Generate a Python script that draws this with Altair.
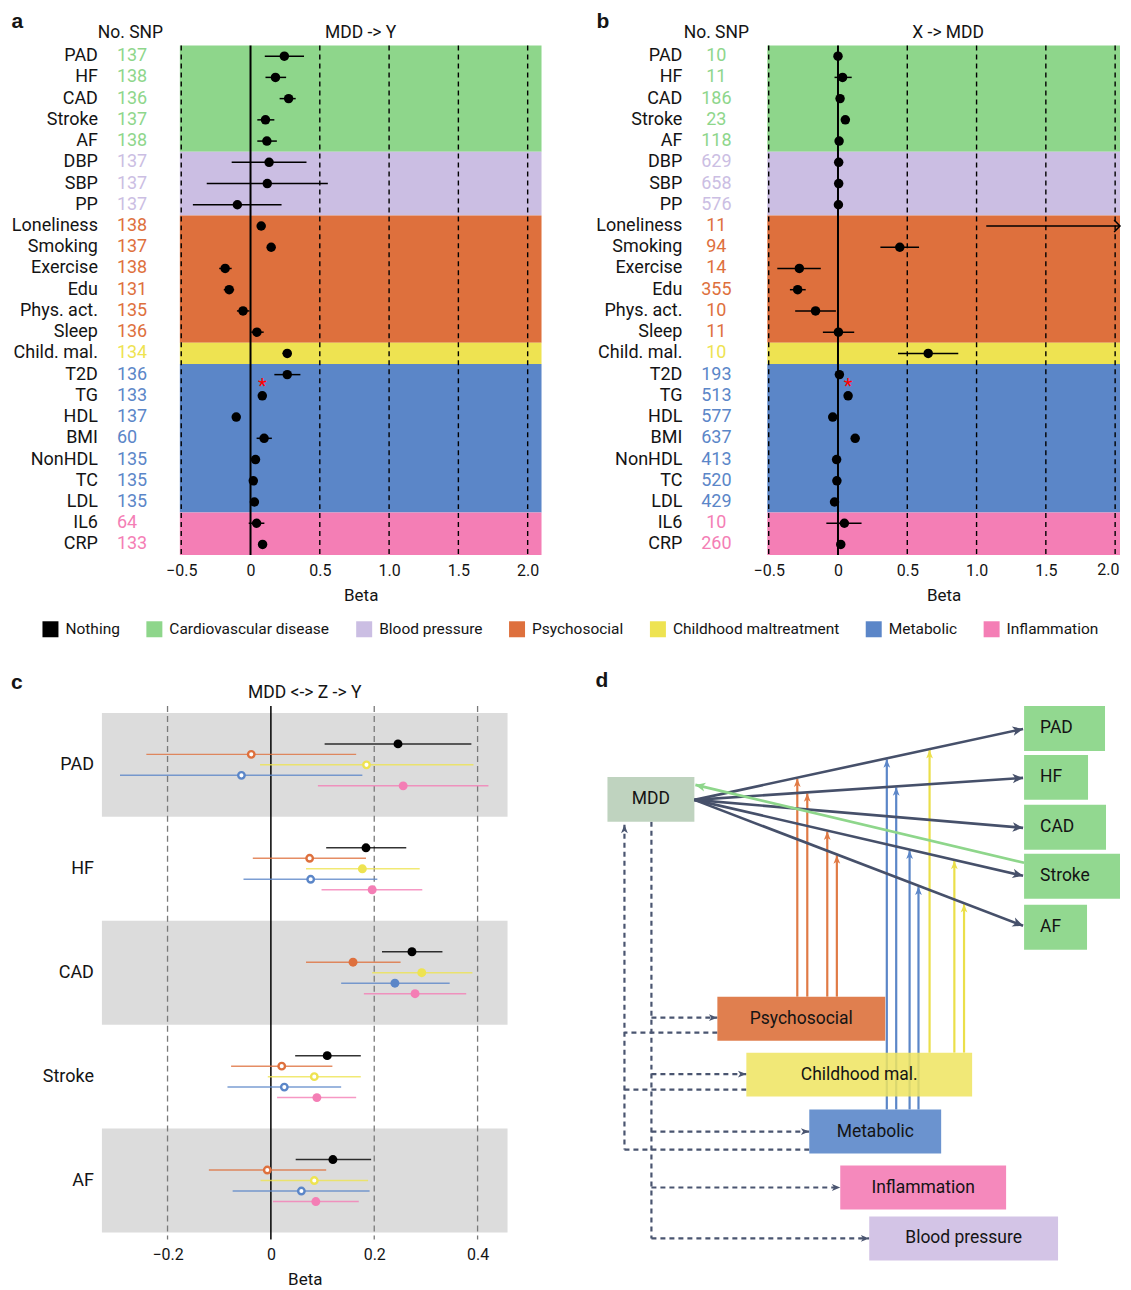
import math
import altair as alt
import numpy as np
import pandas as pd

FONT = "Roboto"
BOLD_FONT = "Liberation Sans"
INK = "#141414"

# ---------------- data: panels a and b ----------------
names = ["PAD", "HF", "CAD", "Stroke", "AF", "DBP", "SBP", "PP", "Loneliness", "Smoking",
         "Exercise", "Edu", "Phys. act.", "Sleep", "Child. mal.", "T2D", "TG", "HDL", "BMI",
         "NonHDL", "TC", "LDL", "IL6", "CRP"]
groups = (["Cardiovascular disease"] * 5 + ["Blood pressure"] * 3 + ["Psychosocial"] * 6
          + ["Childhood maltreatment"] + ["Metabolic"] * 7 + ["Inflammation"] * 2)
star_flags = [n == "TG" for n in names]

snp_a = [137, 138, 136, 137, 138, 137, 137, 137, 138, 137, 138, 131, 135, 136, 134, 136, 133,
         137, 60, 135, 135, 135, 64, 133]
beta_a = [0.244, 0.180, 0.275, 0.108, 0.118, 0.134, 0.121, -0.095, 0.077, 0.149, -0.183, -0.154,
          -0.054, 0.046, 0.265, 0.265, 0.085, -0.103, 0.098, 0.036, 0.020, 0.028, 0.044, 0.087]
lo_a = [0.103, 0.108, 0.210, 0.049, 0.049, -0.136, -0.316, -0.416, 0.067, 0.139, -0.226, -0.193,
        -0.098, 0.005, 0.231, 0.172, 0.075, -0.113, 0.044, 0.026, 0.010, 0.018, -0.013, 0.077]
hi_a = [0.386, 0.257, 0.326, 0.172, 0.190, 0.404, 0.558, 0.224, 0.087, 0.159, -0.136, -0.118,
        -0.008, 0.095, 0.296, 0.360, 0.095, -0.093, 0.154, 0.046, 0.030, 0.038, 0.100, 0.097]

snp_b = [10, 11, 186, 23, 118, 629, 658, 576, 11, 94, 14, 355, 10, 11, 10, 193, 513, 577, 637,
         413, 520, 429, 10, 260]
beta_b = [0.000, 0.033, 0.015, 0.053, 0.008, 0.005, 0.005, 0.003, 2.300, 0.446, -0.279, -0.291,
          -0.162, 0.003, 0.651, 0.010, 0.073, -0.038, 0.124, -0.010, -0.008, -0.025, 0.046, 0.020]
lo_b = [-0.010, -0.025, 0.005, 0.035, 0.000, 0.000, 0.000, -0.002, 1.070, 0.306, -0.438, -0.347,
        -0.309, -0.109, 0.433, 0.000, 0.063, -0.048, 0.114, -0.020, -0.018, -0.035, -0.084, 0.010]
hi_b = [0.010, 0.099, 0.025, 0.070, 0.016, 0.010, 0.010, 0.008, 3.500, 0.585, -0.124, -0.233,
        -0.015, 0.117, 0.868, 0.020, 0.083, -0.028, 0.134, 0.000, 0.002, -0.015, 0.170, 0.030]

AB_TICKS = [-0.5, 0.0, 0.5, 1.0, 1.5, 2.0]
AB_GRID = [-0.5, 0.5, 1.0, 1.5, 2.0]

CATS = ["Nothing", "Cardiovascular disease", "Blood pressure", "Psychosocial",
        "Childhood maltreatment", "Metabolic", "Inflammation"]
CAT_COLORS = ["#000000", "#8ED68B", "#CBBEE3", "#DE703D", "#EEE351", "#5B86C8", "#F47EB5"]

# ---------------- data: panel c ----------------
c_groups = ["PAD", "HF", "CAD", "Stroke", "AF"]
c_series = ["Nothing", "Psychosocial", "Childhood maltreatment", "Metabolic", "Inflammation"]
c_beta = {
    "Nothing": [0.246, 0.184, 0.273, 0.109, 0.120],
    "Psychosocial": [-0.038, 0.075, 0.159, 0.021, -0.007],
    "Childhood maltreatment": [0.185, 0.177, 0.292, 0.084, 0.084],
    "Metabolic": [-0.057, 0.077, 0.240, 0.026, 0.059],
    "Inflammation": [0.256, 0.196, 0.279, 0.089, 0.087],
}
c_lo = {
    "Nothing": [0.104, 0.107, 0.215, 0.047, 0.048],
    "Psychosocial": [-0.241, -0.035, 0.068, -0.077, -0.120],
    "Childhood maltreatment": [-0.021, 0.068, 0.196, -0.006, -0.020],
    "Metabolic": [-0.292, -0.053, 0.136, -0.084, -0.074],
    "Inflammation": [0.091, 0.098, 0.180, 0.012, 0.004],
}
c_hi = {
    "Nothing": [0.388, 0.262, 0.332, 0.174, 0.194],
    "Psychosocial": [0.165, 0.184, 0.251, 0.119, 0.107],
    "Childhood maltreatment": [0.392, 0.288, 0.390, 0.174, 0.188],
    "Metabolic": [0.177, 0.206, 0.346, 0.136, 0.191],
    "Inflammation": [0.421, 0.293, 0.378, 0.165, 0.170],
}
c_hollow = {
    "Nothing": [False, False, False, False, False],
    "Psychosocial": [True, True, False, True, True],
    "Childhood maltreatment": [True, False, False, True, True],
    "Metabolic": [True, True, False, True, True],
    "Inflammation": [False, False, False, False, False],
}
C_TICKS = [-0.2, 0.0, 0.2, 0.4]
C_GRID = [-0.2, 0.2, 0.4]

# ---------------- data: panel d (diagram) ----------------
box_names = ["MDD", "PAD", "HF", "CAD", "Stroke", "AF", "Psychosocial", "Childhood mal.",
             "Metabolic", "Inflammation", "Blood pressure"]
box_x0 = [9, 426, 426, 426, 426, 426, 119, 148, 211, 242, 271]
box_x1 = [96, 507, 490, 508, 526, 489, 287, 374, 343, 408, 460]
box_y0 = [71, 0, 49, 99, 148, 199, 291, 347, 404, 460, 511]
box_y1 = [116, 45, 94, 144, 193, 244, 335, 391, 448, 504, 555]
box_fill = ["#BFD3BF", "#92D890", "#92D890", "#92D890", "#92D890", "#92D890", "#E07F4F",
            "#EFE461", "#6B93CF", "#F589BC", "#D3C4E6"]
box_alpha = [1, 1, 1, 1, 1, 1, 1, 0.86, 1, 1, 1]
box_label_left = [False, True, True, True, True, True, False, False, False, False, False]

mdd_out = (96, 94)
outcome_tip = {"PAD": (425, 23), "HF": (425, 72), "CAD": (425, 122), "Stroke": (425, 170),
               "AF": (425, 220)}
green_from, green_to = (426, 157), (97, 79)
up_arrows = {
    "orange": ([199, 209, 229, 238.6], ["PAD", "HF", "Stroke", "AF"], 291, "#E07A45"),
    "blue": ([288.6, 298, 311.4, 320.3], ["PAD", "HF", "Stroke", "AF"], 404, "#5B86C8"),
    "yellow": ([331.4, 356.2, 365.9], ["PAD", "Stroke", "AF"], 347, "#EBDF4A"),
}
loop_in_x, loop_in_top, loop_in_bottom = 26, 119, 444
loop_in_y = [327, 384, 444]
loop_in_box = ["Psychosocial", "Childhood mal.", "Metabolic"]
loop_out_x, loop_out_top, loop_out_bottom = 53, 116, 533
loop_out_y = [312, 368.5, 426, 482, 533]
loop_out_box = ["Psychosocial", "Childhood mal.", "Metabolic", "Inflammation", "Blood pressure"]

# ---------------- layout constants ----------------
XMIN = -0.51
PX_PER_UNIT = 362 / 2.61
H_AB = 510
W_C, H_C = 406, 534
D_W, D_H = 522, 564
LABEL_PAD, TICK_SIZE = 7, 16
LETTER_SIZE = 21

color_scale = alt.Scale(domain=CATS, range=CAT_COLORS)
LEG = alt.Legend(orient="none", legendX=-59.5, legendY=576, direction="horizontal", title=None,
                 symbolType="square", symbolSize=256, symbolStrokeWidth=0, symbolOpacity=1,
                 labelFont=FONT, labelFontSize=15.5, labelColor=INK, labelOffset=7,
                 columnPadding=26, padding=0, labelLimit=0)

LABEL_EXPR = "datum.value == 0 ? '0' : replace(format(datum.value, '.1f'), '-', '\u2013')"


def cat_color():
    return alt.Color("cat:N", scale=color_scale, legend=LEG)


def xaxis(values):
    return alt.Axis(values=values, labelExpr=LABEL_EXPR,
                    title="Beta", domain=False, ticks=False, grid=False, labelFont=FONT,
                    labelFontSize=TICK_SIZE, labelColor=INK, labelPadding=LABEL_PAD,
                    titleFont=FONT, titleFontSize=17, titleFontWeight="normal", titleColor=INK,
                    titlePadding=9, labelFlush=False, labelOverlap=False)


def txt(text, x, y, align="center", size=17.5, font=FONT, weight="normal", baseline="alphabetic"):
    return alt.Chart(pd.DataFrame({"t": [text]})).mark_text(
        align=align, baseline=baseline, font=font, fontSize=size, fontWeight=weight,
        color=INK).encode(x=alt.value(x), y=alt.value(y), text="t:N")


def letter_mark(letter, x, base_y):
    off = round(0.79 * LETTER_SIZE)
    return txt(letter, x, base_y - off, align="left", size=LETTER_SIZE, font=BOLD_FONT,
               weight="bold", baseline="top")


def forest(beta, lo, hi, snp, title, letter, ox, w_plot, name_x, snp_x, snp_align,
           snp_title_x, letter_x):
    xmax = XMIN + w_plot / PX_PER_UNIT
    df = pd.DataFrame({"idx": list(range(len(names))), "name": names, "cat": groups,
                       "snp": [str(s) for s in snp], "beta": beta, "lo": lo, "hi": hi,
                       "star": star_flags})
    df["hi_draw"] = np.minimum(df["hi"], xmax)
    pts = df[df["beta"] <= xmax]
    over = df[df["hi"] > xmax].assign(xe=xmax)
    stars = df[df["star"]]
    band_rows = []
    for c in CATS[1:]:
        ids = df.index[df["cat"] == c]
        band_rows.append({"cat": c, "y0": ids.min() - 0.5, "y1": ids.max() + 0.5})
    bands = pd.DataFrame(band_rows)

    # tick labels that would spill past the figure edge are drawn as text marks,
    # nudged inwards so the page does not overflow
    axis_ticks = [t for t in AB_TICKS if (xmax - t) * PX_PER_UNIT > 11]
    edge_ticks = pd.DataFrame({"t": [t for t in AB_TICKS if t not in axis_ticks]})

    xs = alt.Scale(domain=[XMIN, xmax], range=[ox, ox + w_plot], nice=False, zero=False)
    ys = alt.Scale(domain=[-0.5, len(names) - 0.5], reverse=True, nice=False, zero=False)
    ax = xaxis(axis_ticks)

    def X(f):
        return alt.X(f, scale=xs, axis=ax, title="Beta")

    def Y(f):
        return alt.Y(f, scale=ys, axis=None)

    layers = [
        alt.Chart(bands).mark_rect().encode(x=alt.value(ox), x2=alt.value(ox + w_plot),
                                            y=Y("y0:Q"), y2="y1:Q", color=cat_color()),
        alt.Chart(pd.DataFrame({"t": AB_GRID})).mark_rule(
            color="black", strokeWidth=1.4, strokeDash=[5, 4]).encode(
            x=X("t:Q"), y=alt.value(0), y2=alt.value(H_AB)),
        alt.Chart(pd.DataFrame({"t": [0.0]})).mark_rule(color="black", strokeWidth=2).encode(
            x=X("t:Q"), y=alt.value(0), y2=alt.value(H_AB)),
        alt.Chart(df).mark_rule(color="black", strokeWidth=1.5).encode(
            x=X("lo:Q"), x2="hi_draw:Q", y=Y("idx:Q")),
        alt.Chart(pts).mark_circle(size=90, color="black", opacity=1).encode(
            x=X("beta:Q"), y=Y("idx:Q")),
    ]
    if len(over):
        layers.append(alt.Chart(over).mark_point(
            shape="M-1,-1L0,0L-1,1", filled=False, color="black", strokeWidth=1.5, size=140,
            opacity=1).encode(x=X("xe:Q"), y=Y("idx:Q")))
    if len(edge_ticks):
        layers.append(alt.Chart(edge_ticks).transform_calculate(
            lab="format(datum.t, '.1f')").mark_text(
            align="right", baseline="top", font=FONT, fontSize=TICK_SIZE, color=INK,
            dx=(xmax - edge_ticks["t"].max()) * PX_PER_UNIT - 0.5).encode(
            x=X("t:Q"), y=alt.value(H_AB + LABEL_PAD), text="lab:N"))
    layers += [
        alt.Chart(stars).mark_text(color="#FF0000", fontSize=20, font=FONT, baseline="middle",
                                   dy=-9).encode(x=X("beta:Q"), y=Y("idx:Q"), text=alt.value("*")),
        alt.Chart(df).mark_text(align="right", baseline="middle", font=FONT, fontSize=18,
                                color=INK).encode(x=alt.value(ox + name_x), y=Y("idx:Q"),
                                                  text="name:N"),
        alt.Chart(df).mark_text(align=snp_align, baseline="middle", font=FONT, fontSize=18).encode(
            x=alt.value(ox + snp_x), y=Y("idx:Q"), text="snp:N", color=cat_color()),
        txt("No. SNP", ox + snp_title_x, -8),
        txt(title, ox + 181, -8),
        letter_mark(letter, ox + letter_x, -18),
    ]
    return alt.layer(*layers).properties(width=ox + w_plot, height=H_AB)


def panel_c():
    rows = []
    for gi, g in enumerate(c_groups):
        for k, s in enumerate(c_series):
            rows.append({"group": g, "gi": gi, "cat": s, "pos": gi + (k - 2) * 0.101,
                         "beta": c_beta[s][gi], "lo": c_lo[s][gi], "hi": c_hi[s][gi],
                         "hollow": c_hollow[s][gi]})
    df = pd.DataFrame(rows)
    filled = df[~df["hollow"]]
    hollow = df[df["hollow"]]
    shade = pd.DataFrame({"y0": [g - 0.5 for g in (0, 2, 4)], "y1": [g + 0.5 for g in (0, 2, 4)]})
    lab = pd.DataFrame({"gi": list(range(len(c_groups))), "group": c_groups})

    xs = alt.Scale(domain=[-0.327, 0.458], nice=False, zero=False)
    ys = alt.Scale(domain=[-0.567, 4.567], reverse=True, nice=False, zero=False)
    ax = xaxis(C_TICKS)

    def X(f):
        return alt.X(f, scale=xs, axis=ax, title="Beta")

    def Y(f):
        return alt.Y(f, scale=ys, axis=None)

    layers = [
        alt.Chart(shade).mark_rect(color="#DCDCDC").encode(
            x=alt.value(0), x2=alt.value(W_C), y=Y("y0:Q"), y2="y1:Q"),
        alt.Chart(pd.DataFrame({"t": C_GRID})).mark_rule(
            color="#7A7A7A", strokeWidth=1.3, strokeDash=[6, 4]).encode(
            x=X("t:Q"), y=alt.value(0), y2=alt.value(H_C)),
        alt.Chart(pd.DataFrame({"t": [0.0]})).mark_rule(color="black", strokeWidth=1.5).encode(
            x=X("t:Q"), y=alt.value(0), y2=alt.value(H_C)),
        alt.Chart(df).mark_rule(strokeWidth=1.5, opacity=0.8).encode(
            x=X("lo:Q"), x2="hi:Q", y=Y("pos:Q"), color=cat_color()),
        alt.Chart(filled).mark_circle(size=80, opacity=1).encode(
            x=X("beta:Q"), y=Y("pos:Q"), color=cat_color()),
        alt.Chart(hollow).mark_point(fill="white", size=42, strokeWidth=2.4, opacity=1).encode(
            x=X("beta:Q"), y=Y("pos:Q"),
            stroke=alt.Stroke("cat:N", scale=color_scale, legend=None)),
        alt.Chart(lab).mark_text(align="right", baseline="middle", font=FONT, fontSize=18,
                                 color=INK).encode(x=alt.value(-8), y=Y("gi:Q"), text="group:N"),
        txt("MDD <-> Z -> Y", W_C / 2, -8),
        letter_mark("c", -91, -17),
    ]
    return alt.layer(*layers).properties(width=W_C, height=H_C)


def heading(x0, y0, x1, y1):
    return math.degrees(math.atan2(x1 - x0, -(y1 - y0))) % 360


def panel_d():
    dxs = alt.Scale(domain=[0, D_W], nice=False, zero=False)
    dys = alt.Scale(domain=[0, D_H], reverse=True, nice=False, zero=False)

    def X(f):
        return alt.X(f, scale=dxs, axis=None)

    def Y(f):
        return alt.Y(f, scale=dys, axis=None)

    def segs(rows, color, width, dash=None):
        kw = dict(color=color, strokeWidth=width, opacity=1)
        if dash:
            kw["strokeDash"] = dash
        d = pd.DataFrame(rows, columns=["x", "y", "x2", "y2"])
        return alt.Chart(d).mark_rule(**kw).encode(x=X("x:Q"), y=Y("y:Q"), x2="x2:Q", y2="y2:Q")

    def heads(rows, color, size, path):
        d = pd.DataFrame(rows, columns=["x", "y", "ang"])
        return alt.Chart(d).mark_point(shape=path, filled=True, color=color, size=size,
                                       opacity=1, strokeWidth=0).encode(
            x=X("x:Q"), y=Y("y:Q"), angle=alt.Angle("ang:Q", scale=None))

    HEAD_BIG = "M0,0L0.95,2.1L0,1.55L-0.95,2.1Z"
    HEAD_SMALL = "M0,0L0.85,2.1L0,1.55L-0.85,2.1Z"
    bx = dict(zip(box_names, box_x0))
    DARK, DASHC = "#46506A", "#4A5570"

    layers = []
    dashed = [(loop_in_x, loop_in_top, loop_in_x, loop_in_bottom),
              (loop_out_x, loop_out_top, loop_out_x, loop_out_bottom)]
    dashed += [(bx[b], y, loop_in_x, y) for b, y in zip(loop_in_box, loop_in_y)]
    dashed += [(loop_out_x, y, bx[b], y) for b, y in zip(loop_out_box, loop_out_y)]
    layers.append(segs(dashed, DASHC, 2.2, [5, 4]))
    up_heads = []
    for key, (xs_, tos, base, col) in up_arrows.items():
        rows, hrows = [], []
        for x, t in zip(xs_, tos):
            tx, ty = outcome_tip[t]
            yline = mdd_out[1] + (ty - mdd_out[1]) * (x - mdd_out[0]) / (tx - mdd_out[0])
            rows.append((x, base, x, yline + 1))
            hrows.append((x, yline + 1, 0.0))
        layers.append(segs(rows, col, 2.2))
        up_heads.append((hrows, col))
    boxes = pd.DataFrame({"name": box_names, "x0": box_x0,
                          "x1": [min(v, D_W) for v in box_x1], "y0": box_y0,
                          "y1": box_y1, "fill": box_fill, "a": box_alpha,
                          "left": box_label_left})
    layers.append(alt.Chart(boxes).mark_rect().encode(
        x=X("x0:Q"), x2="x1:Q", y=Y("y0:Q"), y2="y1:Q",
        fill=alt.Fill("fill:N", scale=None),
        opacity=alt.Opacity("a:Q", scale=None, legend=None)))
    dark = [(mdd_out[0], mdd_out[1], tx, ty) for tx, ty in outcome_tip.values()]
    layers.append(segs(dark, DARK, 2.6))
    layers.append(segs([(green_from[0], green_from[1], green_to[0], green_to[1])], "#8ED68B", 2.6))
    layers.append(heads([(tx, ty, heading(mdd_out[0], mdd_out[1], tx, ty))
                         for tx, ty in outcome_tip.values()], DARK, 100, HEAD_BIG))
    layers.append(heads([(green_to[0], green_to[1],
                          heading(green_from[0], green_from[1], green_to[0], green_to[1]))],
                        "#8ED68B", 90, HEAD_BIG))
    for hrows, col in up_heads:
        layers.append(heads(hrows, col, 64, HEAD_SMALL))
    dhead = [(loop_in_x, loop_in_top, 0.0)] + [(bx[b], y, 90.0) for b, y in
                                               zip(loop_out_box, loop_out_y)]
    layers.append(heads(dhead, DASHC, 64, HEAD_SMALL))
    boxes["cx"] = (boxes["x0"] + boxes["x1"]) / 2
    boxes["lx"] = boxes["x0"] + 16
    boxes["cy"] = (boxes["y0"] + boxes["y1"]) / 2
    layers.append(alt.Chart(boxes[~boxes["left"]]).mark_text(
        align="center", baseline="middle", font=FONT, fontSize=17.5, color=INK).encode(
        x=X("cx:Q"), y=Y("cy:Q"), text="name:N"))
    layers.append(alt.Chart(boxes[boxes["left"]]).mark_text(
        align="left", baseline="middle", font=FONT, fontSize=17.5, color=INK).encode(
        x=X("lx:Q"), y=Y("cy:Q"), text="name:N"))
    layers.append(letter_mark("d", -3, -19))
    return alt.layer(*layers).properties(width=D_W, height=D_H)


panel_a = forest(beta_a, lo_a, hi_a, snp_a, "MDD -> Y", "a", 78, 362,
                 -82, -63, "left", -49.5, -168.5)
panel_b = forest(beta_b, lo_b, hi_b, snp_b, "X -> MDD", "b", 169, 353,
                 -85, -51, "center", -51, -171)

chart = alt.concat(panel_a, panel_b, panel_c(), panel_d(), columns=2,
                   spacing={"row": 151, "column": 57}, bounds="flush", align="each").properties(
    padding={"left": 3, "top": 2, "right": 0, "bottom": 0}
).configure(font=FONT).configure_view(strokeWidth=0, stroke="transparent")

chart.save("out.html", embed_options={"renderer": "svg", "actions": False})
